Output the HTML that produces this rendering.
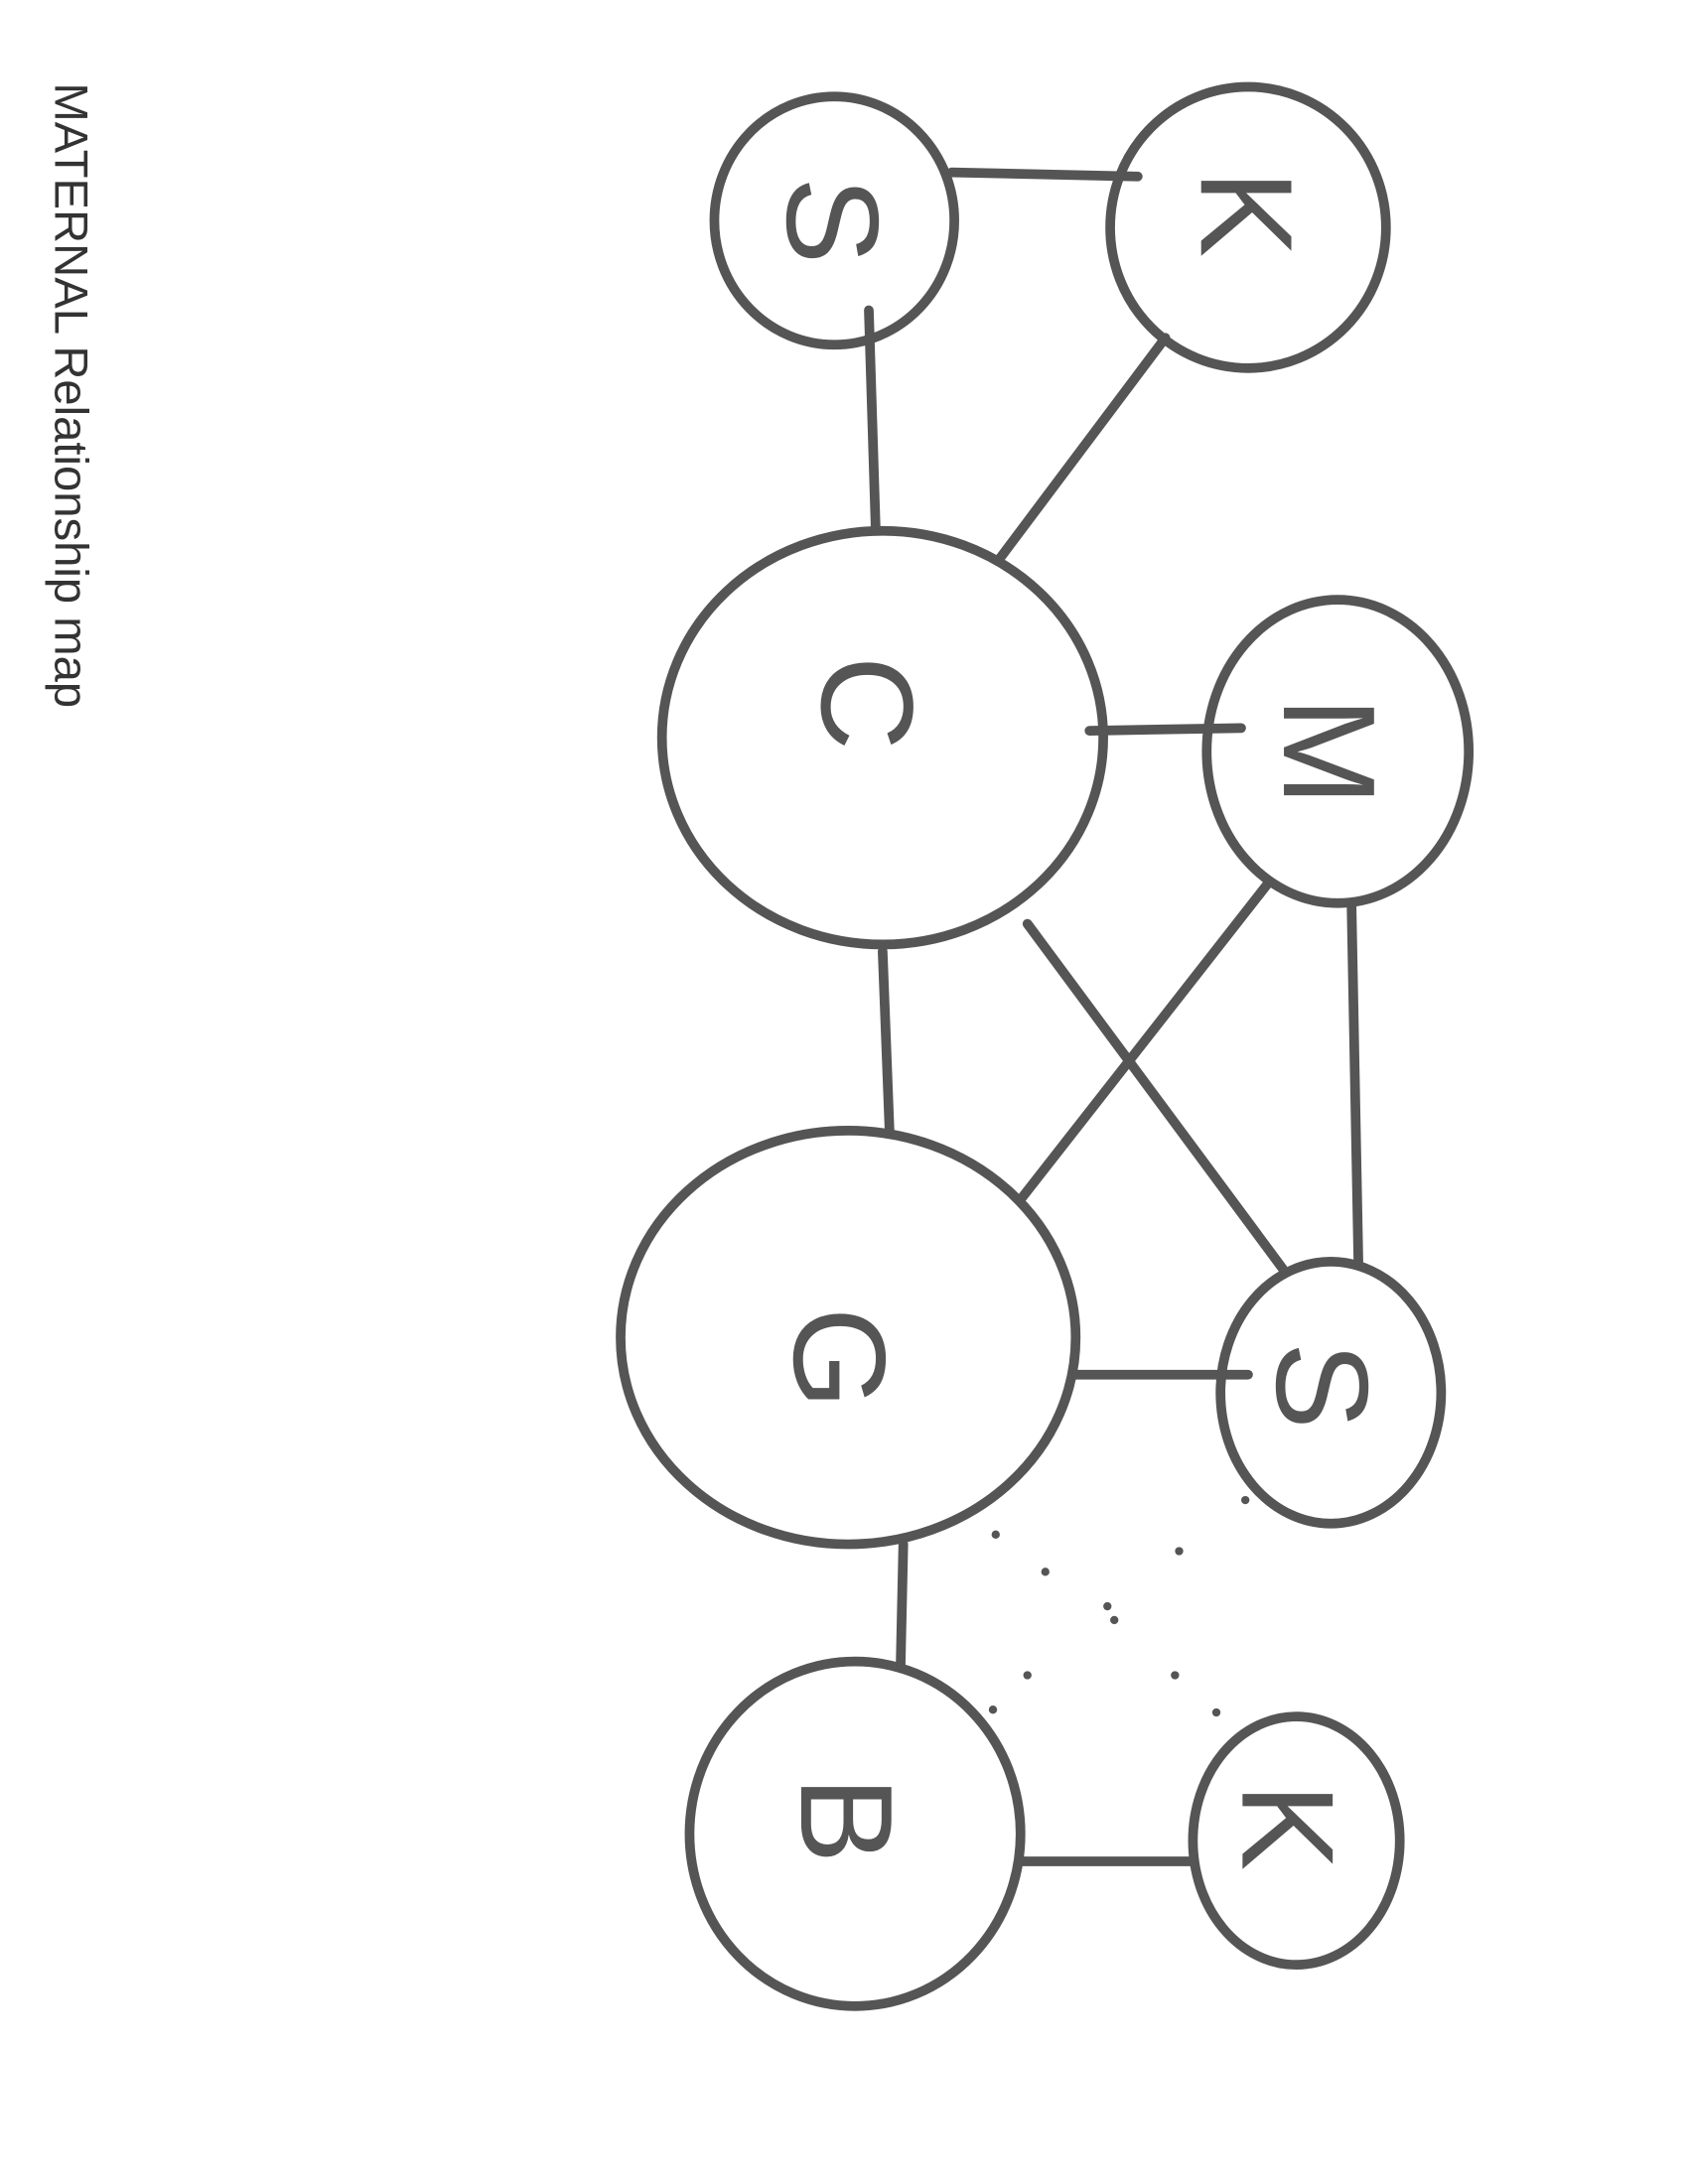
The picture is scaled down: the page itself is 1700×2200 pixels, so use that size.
<!DOCTYPE html>
<html><head><meta charset="utf-8"><style>html,body{margin:0;padding:0;background:#fff}svg{display:block}</style></head>
<body>
<svg width="1700" height="2200" viewBox="0 0 1224 1584" xmlns="http://www.w3.org/2000/svg">
<g fill="none" stroke="#555" stroke-width="7" stroke-linecap="round">
<ellipse cx="605" cy="160" rx="87" ry="90"/>
<ellipse cx="905" cy="165" rx="100" ry="102"/>
<ellipse cx="640" cy="535" rx="160" ry="150"/>
<ellipse cx="970" cy="545" rx="95" ry="110"/>
<ellipse cx="615" cy="970" rx="165" ry="150"/>
<ellipse cx="965" cy="1010" rx="80" ry="95"/>
<ellipse cx="620" cy="1330" rx="120" ry="125"/>
<ellipse cx="940" cy="1335" rx="75" ry="90"/>
<line x1="690" y1="125" x2="825" y2="128"/>
<line x1="630" y1="225" x2="635" y2="385"/>
<line x1="845" y1="245" x2="725" y2="405"/>
<line x1="790" y1="530" x2="900" y2="528"/>
<line x1="640" y1="690" x2="645" y2="820"/>
<line x1="745" y1="670" x2="930" y2="920"/>
<line x1="920" y1="640" x2="740" y2="870"/>
<line x1="980" y1="655" x2="985" y2="915"/>
<line x1="780" y1="997" x2="905" y2="997"/>
<line x1="655" y1="1120" x2="653" y2="1210"/>
<line x1="740" y1="1350" x2="865" y2="1350"/>
</g>
<g fill="#555">
<circle cx="722" cy="1113" r="3"/><circle cx="758" cy="1140" r="3"/><circle cx="855" cy="1125" r="3"/>
<circle cx="803" cy="1165" r="3"/><circle cx="808" cy="1175" r="3"/><circle cx="745" cy="1215" r="3"/>
<circle cx="852" cy="1215" r="3"/><circle cx="720" cy="1240" r="3"/><circle cx="882" cy="1242" r="3"/>
<circle cx="903" cy="1088" r="3"/>
</g>
<g font-family="Liberation Sans, sans-serif" font-size="95" fill="#555" text-anchor="middle">
<text transform="translate(605,160) rotate(90)" dy="34">S</text>
<text transform="translate(905,155) rotate(90)" dy="34">K</text>
<text transform="translate(630,510) rotate(90)" dy="34">C</text>
<text transform="translate(965,545) rotate(90)" dy="34">M</text>
<text transform="translate(610,985) rotate(90)" dy="34">G</text>
<text transform="translate(960,1005) rotate(90)" dy="34">S</text>
<text transform="translate(615,1320) rotate(90)" dy="34">B</text>
<text transform="translate(935,1325) rotate(90)" dy="34">K</text>
</g>
<text transform="translate(40,60) rotate(90)" font-family="Liberation Sans, sans-serif" font-size="34" fill="#333">MATERNAL Relationship map</text>
</svg>
</body></html>
